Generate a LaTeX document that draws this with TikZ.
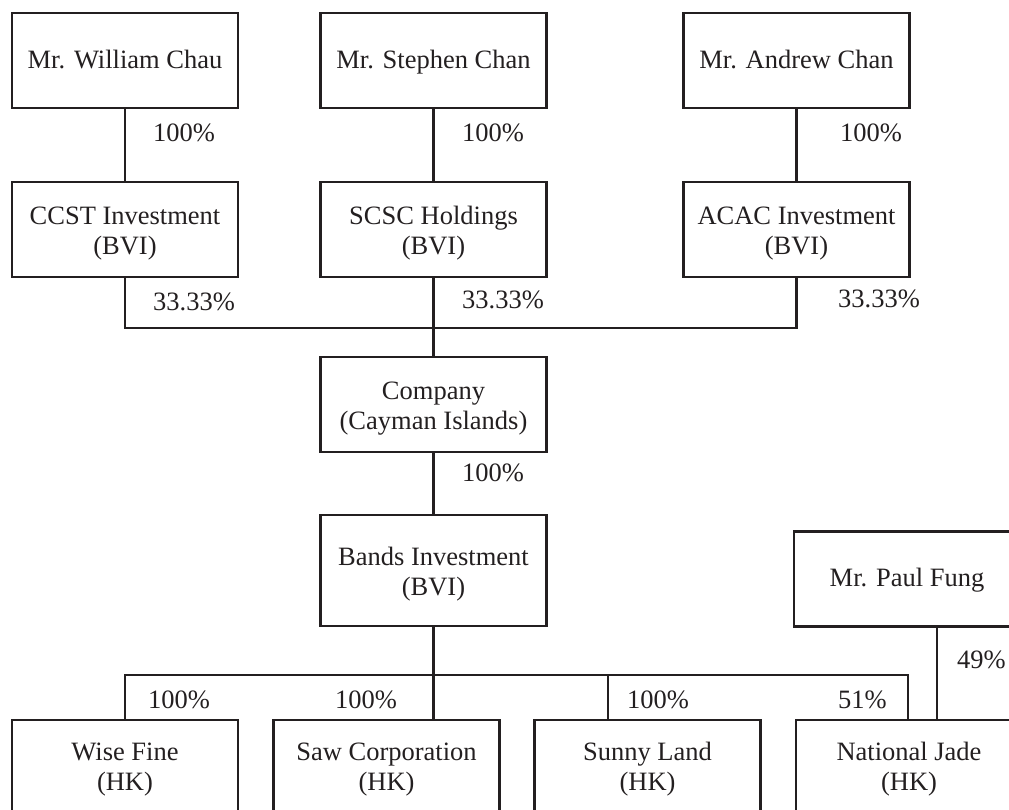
\documentclass[tikz,border=0pt]{standalone}
\usepackage{fontspec}
\setmainfont{Liberation Serif}
\usetikzlibrary{calc}
\definecolor{ink}{HTML}{231F20}
\begin{document}
\begin{tikzpicture}[x=1pt,y=-1pt,
  every node/.style={text=ink, font=\fontsize{26.5}{29.5}\selectfont},
  entity/.style={draw=ink, line width=2.7pt, rectangle, align=center,
    minimum width=226pt, minimum height=95pt, inner sep=0pt, outer sep=0pt},
  % struts fix where the text sits inside each box
  oneline/.style={entity,
    execute at begin node=\rule{0pt}{22pt},
    execute at end node=\rule[-6.4pt]{0pt}{0pt}},
  twoline/.style={entity,
    execute at begin node=\rule{0pt}{55.5pt},
    execute at end node=\rule[-6pt]{0pt}{0pt}},
  openbox/.style={entity, anchor=north, minimum height=110pt,
    execute at begin node=\rule{0pt}{20pt},
    execute at end node=\rule[-17pt]{0pt}{0pt}},
  pct/.style={anchor=west, inner sep=0pt},
  link/.style={draw=ink, line width=2.7pt}]
\useasboundingbox (0,0) rectangle (1009,809);
\clip (0,0) rectangle (1009,809);

% shareholders
\node[oneline] (will)   at (125,60.5)   {Mr. William Chau};
\node[oneline] (steph)  at (433.5,60.5) {Mr. Stephen Chan};
\node[oneline] (andrew) at (796.5,60.5) {Mr. Andrew Chan};

% holding vehicles
\node[twoline] (ccst) at (125,229.5)   {CCST Investment\\(BVI)};
\node[twoline] (scsc) at (433.5,229.5) {SCSC Holdings\\(BVI)};
\node[twoline] (acac) at (796.5,229.5) {ACAC Investment\\(BVI)};

% company and intermediate holding
\node[twoline] (comp)  at (433.5,404.5) {Company\\(Cayman Islands)};
\node[twoline, minimum height=111pt] (bands) at (433.5,570.5) {Bands Investment\\(BVI)};
\node[oneline] (paul)  at (907,579) {Mr. Paul Fung};

% operating subsidiaries
\node[openbox] (wf) at (125,720)   {Wise Fine\\(HK)};
\node[openbox] (sc) at (386.5,720) {Saw Corporation\\(HK)};
\node[openbox] (sl) at (647.5,720) {Sunny Land\\(HK)};
\node[openbox] (nj) at (909,720)   {National Jade\\(HK)};

% junctions
\coordinate (hub) at (433.5,328);
\coordinate (bus) at (433.5,675);
\coordinate (scin) at (bands.south |- sc.north);
\coordinate (slin) at ($(sl.north)+(-39.5,0)$);
\coordinate (njin) at ($(nj.north)+(-1,0)$);
\coordinate (pfout) at ($(paul.south)+(30,0)$);

% ownership lines
\draw[link] (will) -- (ccst);
\draw[link] (steph) -- (scsc);
\draw[link] (andrew) -- (acac);
\draw[link] (ccst.south) |- (hub) -| (acac.south);
\draw[link] (scsc) -- (comp);
\draw[link] (comp) -- (bands);
\draw[link] (bands.south) -- (scin);
\draw[link] (wf.north) |- (bus) -| (njin);
\draw[link] (slin) -- (slin |- bus);
\draw[link] (pfout) -- (pfout |- nj.north);

% percentages
\node[pct] (p1) at (153,133) {100\%};
\node[pct] (p2) at (462,133) {100\%};
\node[pct] (p3) at (840,133) {100\%};
\node[pct] (q1) at (153,302) {33.33\%};
\node[pct] (q2) at (462,300) {33.33\%};
\node[pct] (q3) at (838,299) {33.33\%};
\node[pct] (p4) at (462,473) {100\%};
\node[pct] (b1) at (148,700) {100\%};
\node[pct] (b2) at (335,700) {100\%};
\node[pct] (b3) at (627,700) {100\%};
\node[pct] (b4) at (838,700) {51\%};
\node[pct] (b5) at (957,660) {49\%};
\end{tikzpicture}
\end{document}
